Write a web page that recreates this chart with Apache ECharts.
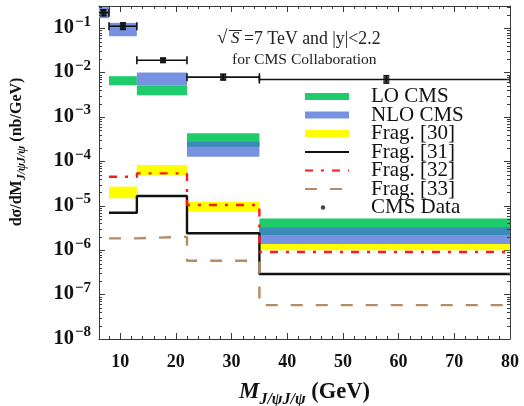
<!DOCTYPE html>
<html>
<head>
<meta charset="utf-8">
<script src="https://cdn.jsdelivr.net/npm/echarts@6/dist/echarts.min.js"></script>
<style>
  html, body { margin: 0; padding: 0; background: #fff; }
  #chart { width: 524px; height: 406px; }
</style>
</head>
<body>
<div id="chart"></div>
<script>
// Invariant-mass bins (GeV) shared by the theory bands and step curves
const binEdges = [6, 8, 13, 22, 35, 80];

// LO CMS band (nb/GeV)
const loLow  = [null, 0.0052, 0.0031, 2.13e-4, 2.2e-6];
const loHigh = [null, 0.0083, 0.0052, 4.28e-4, 5.2e-6];

// NLO CMS band (nb/GeV)
const nloLow  = [0.168, 0.066, 0.0052, 1.27e-4, 1.38e-6];
const nloHigh = [0.298, 0.132, 0.010, 2.77e-4, 3.27e-6];

// Frag. [30] band (nb/GeV)
const frag30Low  = [null, 1.48e-5, 4.92e-5, 7.3e-6, 1.0e-6];
const frag30High = [null, 2.7e-5, 8.26e-5, 1.23e-5, 1.6e-6];

// Frag. [31], [32], [33] step curves (nb/GeV)
const frag31 = [null, 6.97e-6, 1.66e-5, 2.4e-6, 2.9e-7];
const frag32 = [null, 4.5e-5, 5.37e-5, 1.04e-5, 9.1e-7];
const frag33 = [null, 1.85e-6, 2.0e-6, 5.8e-7, 5.8e-8];

// CMS data points
const cmsMass    = [7, 10.5, 17.7, 28.5, 57.8];
const cmsBinLow  = [6, 8, 13, 22, 35];
const cmsBinHigh = [8, 13, 22, 35, 80];
const cmsValue   = [0.224, 0.111, 0.019, 0.0079, 0.0070];
const cmsErrLow  = [0.19, 0.094, 0.017, 0.0068, 0.0058];
const cmsErrHigh = [0.26, 0.132, 0.021, 0.0092, 0.0085];

// Axis ranges and tick labels
const xMin = 6.2, xMax = 80;
const yMin = 1e-8, yMax = Math.pow(10, -0.5);
const xTickLabels = [10, 20, 30, 40, 50, 60, 70, 80];
const yTickExponents = [-8, -7, -6, -5, -4, -3, -2, -1];

const SERIF = "'Liberation Serif', 'DejaVu Serif', serif";
const FRAME = '#3a3a3a';
const lg = v => Math.log10(v);

const yLogMin = lg(yMin), yLogMax = lg(yMax);

// Minor tick positions: every 2 GeV, and 2..9 within each decade
const xMinorTicks = [];
for (let v = 8; v <= 80; v += 2) if (v % 10 !== 0) xMinorTicks.push(v);
const yMinorTicks = [];
yTickExponents.forEach(d => {
  for (let k = 2; k <= 9; k++) {
    const v = d + Math.log10(k);
    if (v < yLogMax) yMinorTicks.push(v);
  }
});

// Filled rectangle per bin between low and high
function bandSeries(name, low, high, color, z) {
  const data = [];
  low.forEach((lo, i) => {
    if (lo != null) data.push([binEdges[i], binEdges[i + 1], lg(lo), lg(high[i])]);
  });
  return {
    name, type: 'custom', z, itemStyle: { color },
    encode: { x: [0, 1], y: [2, 3] },
    renderItem(params, api) {
      const p0 = api.coord([api.value(0), api.value(3)]);
      const p1 = api.coord([api.value(1), api.value(2)]);
      const cs = params.coordSys;
      const shape = echarts.graphic.clipRectByRect(
        { x: p0[0], y: p0[1], width: p1[0] - p0[0], height: p1[1] - p0[1] },
        { x: cs.x, y: cs.y, width: cs.width, height: cs.height });
      return shape && { type: 'rect', shape, style: { fill: color } };
    },
    data
  };
}

// Where LO and NLO overlap the two bands show a darker teal
const overlapLow = [], overlapHigh = [];
loLow.forEach((lo, i) => {
  if (lo == null) { overlapLow.push(null); overlapHigh.push(null); return; }
  const a = Math.max(lo, nloLow[i]), b = Math.min(loHigh[i], nloHigh[i]);
  if (a < b) { overlapLow.push(a); overlapHigh.push(b); }
  else { overlapLow.push(null); overlapHigh.push(null); }
});

// Histogram-style step line through the bins
function stepSeries(name, values, color, type, z) {
  const data = [];
  values.forEach((v, i) => {
    if (v == null) return;
    data.push([binEdges[i], lg(v)], [binEdges[i + 1], lg(v)]);
  });
  return {
    name, type: 'line', z, data, symbol: 'none', clip: true,
    lineStyle: { color, width: 2.4, type }, itemStyle: { color }
  };
}

// Short inward ticks on both opposite frame edges
function minorTickSeries(values, horizontal) {
  return {
    name: horizontal ? 'x minor ticks' : 'y minor ticks',
    type: 'custom', z: 20, silent: true,
    encode: horizontal ? { x: 0 } : { y: 0 },
    renderItem(params, api) {
      const cs = params.coordSys;
      const st = { stroke: FRAME, lineWidth: 1 };
      if (horizontal) {
        const x = Math.round(api.coord([api.value(0), yLogMin])[0]) + 0.5;
        const b = cs.y + cs.height, t = cs.y;
        return { type: 'group', children: [
          { type: 'line', shape: { x1: x, y1: b, x2: x, y2: b - 3 }, style: st },
          { type: 'line', shape: { x1: x, y1: t, x2: x, y2: t + 3 }, style: st }
        ] };
      }
      const y = Math.round(api.coord([xMin, api.value(0)])[1]) + 0.5;
      const l = cs.x, r = cs.x + cs.width;
      return { type: 'group', children: [
        { type: 'line', shape: { x1: l, y1: y, x2: l + 3, y2: y }, style: st },
        { type: 'line', shape: { x1: r, y1: y, x2: r - 3, y2: y }, style: st }
      ] };
    },
    data: values.map(v => [v])
  };
}

const errorData = cmsMass.map((m, i) => [m, lg(cmsValue[i]), cmsBinLow[i], cmsBinHigh[i], lg(cmsErrLow[i]), lg(cmsErrHigh[i])]);

const chart = echarts.init(document.getElementById('chart'), null, { renderer: 'canvas' });

const xBase = { type: 'value', min: xMin, max: xMax, splitLine: { show: false } };
const yBase = { type: 'value', min: yLogMin, max: yLogMax, splitLine: { show: false } };

const lineLegendStyle = { opacity: 0 };

chart.setOption({
  animation: false,
  backgroundColor: '#fff',
  grid: { left: 99, right: 14, top: 6, bottom: 67, containLabel: false, outerBoundsMode: 'none' },
  xAxis: [
    Object.assign({}, xBase, {
      position: 'bottom',
      axisLine: { show: true, onZero: false, lineStyle: { color: FRAME, width: 1 } },
      axisTick: { show: true, inside: true, length: 6, customValues: xTickLabels, lineStyle: { color: FRAME } },
      axisLabel: { show: true, customValues: xTickLabels, fontFamily: SERIF, fontWeight: 'bold', fontSize: 18, color: '#111', margin: 14 },
      name: '{m|M}{s|J/ψJ/ψ}{b| (GeV)}',
      nameLocation: 'middle', nameGap: 45,
      nameTextStyle: {
        rich: {
          m: { fontFamily: SERIF, fontWeight: 'bold', fontStyle: 'italic', fontSize: 23, color: '#111', lineHeight: 24, verticalAlign: 'bottom', padding: [0, 0, 4, 0] },
          s: { fontFamily: SERIF, fontWeight: 'bold', fontStyle: 'italic', fontSize: 16, color: '#111', lineHeight: 16, verticalAlign: 'bottom' },
          b: { fontFamily: SERIF, fontWeight: 'bold', fontSize: 22.5, color: '#111', lineHeight: 24, verticalAlign: 'bottom', padding: [0, 0, 4, 0] }
        }
      }
    }),
    Object.assign({}, xBase, {
      position: 'top',
      axisLine: { show: true, onZero: false, lineStyle: { color: FRAME, width: 1 } },
      axisTick: { show: true, inside: true, length: 6, customValues: xTickLabels, lineStyle: { color: FRAME } },
      axisLabel: { show: false }
    })
  ],
  yAxis: [
    Object.assign({}, yBase, {
      position: 'left',
      axisLine: { show: true, onZero: false, lineStyle: { color: FRAME, width: 1 } },
      axisTick: { show: true, inside: true, length: 6, customValues: yTickExponents, lineStyle: { color: FRAME } },
      axisLabel: {
        show: true, customValues: yTickExponents, margin: 1,
        formatter: v => '{b|10}{s|\u2212' + Math.round(-v) + '}',
        rich: {
          b: { fontFamily: SERIF, fontWeight: 'bold', fontSize: 20.5, color: '#111', lineHeight: 20, verticalAlign: 'bottom' },
          s: { fontFamily: SERIF, fontWeight: 'bold', fontSize: 15, color: '#111', lineHeight: 13, verticalAlign: 'bottom', padding: [0, 7, 9, 1] }
        }
      }
    }),
    Object.assign({}, yBase, {
      position: 'right',
      axisLine: { show: true, onZero: false, lineStyle: { color: FRAME, width: 1 } },
      axisTick: { show: true, inside: true, length: 6, customValues: yTickExponents, lineStyle: { color: FRAME } },
      axisLabel: { show: false }
    })
  ],
  legend: {
    orient: 'vertical', left: 304, top: 86, padding: 0,
    itemWidth: 44, itemHeight: 7, itemGap: -2.5, selectedMode: false,
    textStyle: { fontFamily: SERIF, fontSize: 21, color: '#111', padding: [0, 0, 0, 17] },
    data: [
      { name: 'LO CMS', icon: 'rect' },
      { name: 'NLO CMS', icon: 'rect' },
      { name: 'Frag. [30]', icon: 'rect' },
      { name: 'Frag. [31]', itemStyle: lineLegendStyle },
      { name: 'Frag. [32]', itemStyle: lineLegendStyle },
      { name: 'Frag. [33]', itemStyle: lineLegendStyle },
      { name: 'CMS Data', icon: 'path://M0,0 M44,7 M15.8,3.5 a2.2,2.2 0 1,0 4.4,0 a2.2,2.2 0 1,0 -4.4,0' }
    ]
  },
  graphic: [
    {
      type: 'text', z: 100,
      style: { x: 217, y: 38, text: '\u221A', fontFamily: SERIF, fontSize: 19, fill: '#222', verticalAlign: 'middle' }
    },
    {
      type: 'line', z: 100,
      shape: { x1: 229, y1: 30.5, x2: 242, y2: 30.5 },
      style: { stroke: '#222', lineWidth: 1 }
    },
    {
      type: 'text', z: 100,
      style: { x: 231, y: 39, text: 'S', fontFamily: SERIF, fontStyle: 'italic', fontSize: 17, fill: '#222', verticalAlign: 'middle' }
    },
    {
      type: 'text', z: 100,
      style: { x: 244, y: 39, text: '=7 TeV and |y|<2.2', fontFamily: SERIF, fontSize: 17.8, fill: '#222', verticalAlign: 'middle' }
    },
    {
      type: 'text', z: 100,
      style: { x: 232, y: 60, text: 'for CMS Collaboration', fontFamily: SERIF, fontSize: 15.6, fill: '#222', verticalAlign: 'middle' }
    },
    {
      type: 'text', x: 18, y: 152, rotation: Math.PI / 2, z: 100,
      style: {
        text: '{b|d\u03C3/dM}{s|J/\u03C8J/\u03C8}{b| (nb/GeV)}',
        align: 'center', verticalAlign: 'middle',
        rich: {
          b: { fontFamily: SERIF, fontWeight: 'bold', fontSize: 16, fill: '#111', lineHeight: 20, verticalAlign: 'bottom', padding: [0, 0, 3, 0] },
          s: { fontFamily: SERIF, fontWeight: 'bold', fontStyle: 'italic', fontSize: 12, fill: '#111', lineHeight: 13, verticalAlign: 'bottom' }
        }
      }
    }
  ],
  series: [
    bandSeries('Frag. [30]', frag30Low, frag30High, '#ffff00', 2),
    bandSeries('LO CMS', loLow, loHigh, '#1fcc6b', 3),
    bandSeries('NLO CMS', nloLow, nloHigh, '#7892e2', 4),
    bandSeries('LO+NLO', overlapLow, overlapHigh, '#3a8bb8', 5),
    stepSeries('Frag. [31]', frag31, '#111111', 'solid', 6),
    stepSeries('Frag. [32]', frag32, '#ff1a1a', [8, 8, 3, 8], 6),
    stepSeries('Frag. [33]', frag33, '#b48c66', [12, 13], 6),
    {
      name: 'CMS error bars', type: 'custom', z: 8, clip: true,
      encode: { x: [0, 2, 3], y: [1, 4, 5] },
      renderItem(params, api) {
        const c = api.coord([api.value(0), api.value(1)]);
        const l = api.coord([api.value(2), api.value(1)]);
        const r = api.coord([api.value(3), api.value(1)]);
        const lo = api.coord([api.value(0), api.value(4)]);
        const hi = api.coord([api.value(0), api.value(5)]);
        const st = { stroke: '#111', lineWidth: 1.6 };
        return {
          type: 'group',
          children: [
            { type: 'line', shape: { x1: l[0], y1: c[1], x2: r[0], y2: c[1] }, style: st },
            { type: 'line', shape: { x1: l[0], y1: c[1] - 4, x2: l[0], y2: c[1] + 4 }, style: st },
            { type: 'line', shape: { x1: r[0], y1: c[1] - 4, x2: r[0], y2: c[1] + 4 }, style: st },
            { type: 'line', shape: { x1: c[0], y1: lo[1], x2: c[0], y2: hi[1] }, style: st },
            { type: 'line', shape: { x1: c[0] - 3, y1: lo[1], x2: c[0] + 3, y2: lo[1] }, style: st },
            { type: 'line', shape: { x1: c[0] - 3, y1: hi[1], x2: c[0] + 3, y2: hi[1] }, style: st }
          ]
        };
      },
      data: errorData
    },
    {
      name: 'CMS Data', type: 'scatter', z: 9, symbol: 'rect', symbolSize: 6,
      itemStyle: { color: '#111' },
      data: cmsMass.map((m, i) => [m, lg(cmsValue[i])])
    },
    minorTickSeries(xMinorTicks, true),
    minorTickSeries(yMinorTicks, false)
  ]
});
</script>
</body>
</html>
